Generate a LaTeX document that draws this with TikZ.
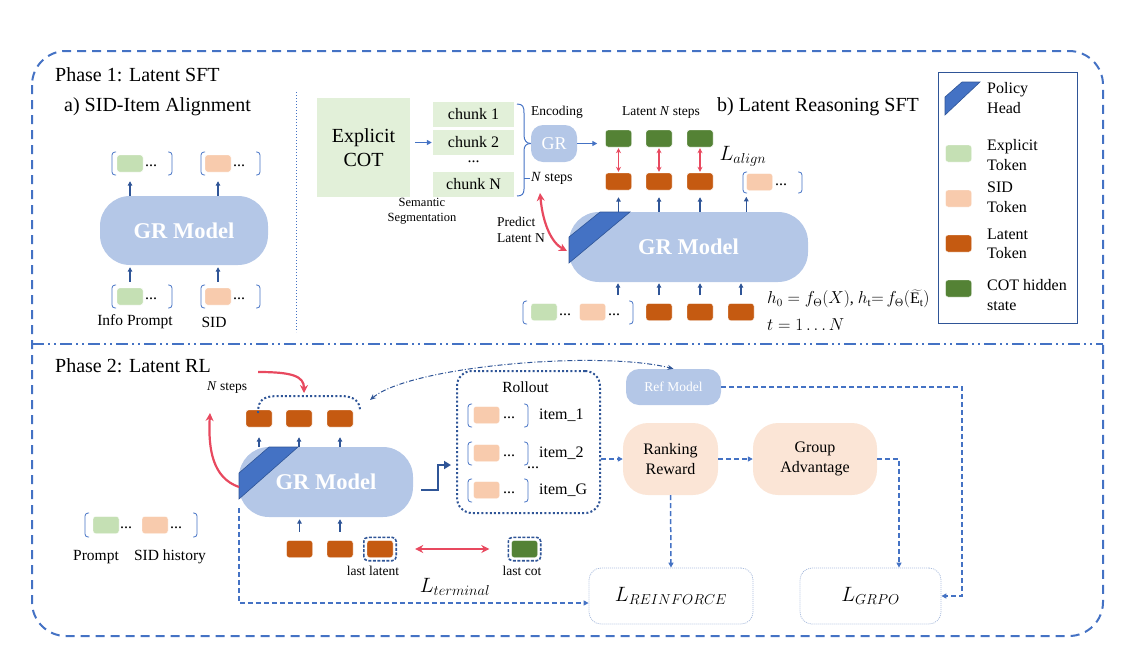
\documentclass[tikz,border=0pt]{standalone}
\usepackage{fontspec}
\setmainfont{Liberation Serif}
\usetikzlibrary{arrows.meta,calc}
\definecolor{cBlue}{HTML}{4472C4}
\definecolor{cDark}{HTML}{2F5597}
\definecolor{cGR}{HTML}{B4C7E7}
\definecolor{cGreenL}{HTML}{C5E0B4}
\definecolor{cSID}{HTML}{F8CBAD}
\definecolor{cLat}{HTML}{C55A11}
\definecolor{cCot}{HTML}{548235}
\definecolor{cCOTbox}{HTML}{E2F0D9}
\definecolor{cPeach}{HTML}{FBE5D6}
\definecolor{cRed}{HTML}{E8495F}
\definecolor{cLoss}{HTML}{A9BCDD}
\newcommand{\fs}[2]{\fontsize{#1}{#2}\selectfont}
\newcommand{\brL}[3]{\draw[brk] (#1+4,#2) -- (#1,#2) -- (#1,#3) -- (#1+4,#3);}
\newcommand{\brR}[3]{\draw[brk] (#1-4,#2) -- (#1,#2) -- (#1,#3) -- (#1-4,#3);}
\begin{document}
\begin{tikzpicture}[x=1pt,y=-1pt,
  tok/.style={rectangle, rounded corners=2.5pt, minimum width=26pt, minimum height=17pt, inner sep=0pt, draw=white, line width=0.4pt},
  gtok/.style={tok, fill=cGreenL}, stok/.style={tok, fill=cSID},
  ltok/.style={tok, fill=cLat}, ctok/.style={tok, fill=cCot},
  grbox/.style={rectangle, rounded corners=30pt, fill=cGR, text=white, font=\bfseries\fs{22.5}{27}, inner sep=0pt},
  uarr/.style={draw=cDark, line width=1.1pt, -{Triangle[length=4.5pt,width=4.5pt]}},
  rarr/.style={draw=cRed, line width=2.2pt, -{Stealth[length=8pt,width=8pt]}},
  rdarr/.style={draw=cRed, line width=2.2pt, {Stealth[length=8pt,width=8pt]}-{Stealth[length=8pt,width=8pt]}},
  rsarr/.style={draw=cRed, line width=1.3pt, {Stealth[length=5pt,width=5pt]}-{Stealth[length=5pt,width=5pt]}},
  darr/.style={draw=cBlue, line width=1.5pt, dash pattern=on 5pt off 3pt, -{Triangle[length=5pt,width=5pt]}},
  ddarr/.style={draw=cDark, line width=1pt, dash pattern=on 5pt off 2pt on 1pt off 2pt, {Stealth[length=6pt,width=5pt]}-{Stealth[length=6pt,width=5pt]}},
  barr/.style={draw=cBlue, line width=1.3pt, -{Triangle[length=5pt,width=5pt]}},
  brk/.style={draw=cBlue, line width=0.8pt, rounded corners=3pt},
  lbl/.style={inner sep=0pt},
  dotsl/.style={inner sep=0pt, anchor=west, font=\fs{16}{19}},
  head/.style={fill=cBlue, draw=cDark, line width=0.6pt},
  chunk/.style={fill=cCOTbox, minimum width=81pt, minimum height=25pt, inner sep=0pt, font=\fs{16}{19}},
  lossbox/.style={draw=cLoss, dash pattern=on 1pt off 1pt, line width=0.8pt, rounded corners=12pt, minimum height=56pt, font=\fs{20}{24}},
  peach/.style={fill=cPeach, rounded corners=25pt, minimum height=72pt, align=center, font=\fs{16}{20}},
  dashbox/.style={draw=cDark, line width=1.6pt, dash pattern=on 3pt off 1.5pt, rounded corners=4pt},
  dotline/.style={draw=cDark, line width=2pt, dash pattern=on 2pt off 2.2pt}
]
\useasboundingbox (0,0) rectangle (1134,651);

% frame
\draw[cBlue, line width=2pt, dash pattern=on 9pt off 6pt, rounded corners=34pt] (32,51) rectangle (1103,636);
\draw[cBlue, line width=2pt, dash pattern=on 12pt off 4pt on 2pt off 4pt on 2pt off 4pt] (32,344) -- (1103,344);
\draw[cBlue, line width=0.9pt, dash pattern=on 1pt off 2pt] (296,92) -- (296,332);

% titles
\node[lbl, anchor=west, font=\fs{20}{24}] (t1) at (55,75) {Phase 1: Latent SFT};
\node[lbl, anchor=west, font=\fs{20}{24}] (t1a) at (64,107) {a) SID-Item Alignment};
\node[lbl, anchor=west, font=\fs{20}{24}] (t1b) at (717,107) {b) Latent Reasoning SFT};
\node[lbl, anchor=west, font=\fs{20}{24}] (t2) at (55,366) {Phase 2: Latent RL};

% ---------- Phase 1 a
\node[grbox, minimum width=168pt, minimum height=69pt] (grA) at (184,230.5) {GR Model};
\brL{112}{152}{175} \node[gtok] (aG1) at (130,163.5) {}; \node[dotsl] at (145,166) {...}; \brR{172}{152}{175}
\brL{201}{152}{175} \node[stok] (aS1) at (218,163.5) {}; \node[dotsl] at (233,166) {...}; \brR{260}{152}{175}
\brL{112}{285}{308} \node[gtok] (aG2) at (130,296.5) {}; \node[dotsl] at (145,299) {...}; \brR{172}{285}{308}
\brL{201}{285}{308} \node[stok] (aS2) at (218,296.5) {}; \node[dotsl] at (233,299) {...}; \brR{260}{285}{308}
\draw[uarr] (grA.north -| aG1) -- ([yshift=-9pt]aG1.south);
\draw[uarr] (grA.north -| aS1) -- ([yshift=-9pt]aS1.south);
\draw[uarr, shorten >=2pt] ([yshift=6pt]aG2.north) -- (grA.south -| aG2);
\draw[uarr, shorten >=2pt] ([yshift=6pt]aS2.north) -- (grA.south -| aS2);
\node[lbl, font=\fs{15.5}{18}] (ip) at (135,322) {Info Prompt};
\node[lbl, font=\fs{15.5}{18}] (sid) at (214,322) {SID};

% ---------- Phase 1 b
\node[fill=cCOTbox, minimum width=93pt, minimum height=99pt, inner sep=0pt, align=center, font=\fs{20}{24}] (cot) at (363.5,147.5) {Explicit\\COT};
\node[chunk] (c1) at (473.5,114) {chunk 1};
\node[chunk] (c2) at (473.5,142.5) {chunk 2};
\node[lbl, font=\fs{16}{19}] (cd) at (473.5,162) {...};
\node[chunk] (cN) at (473.5,184.5) {chunk N};
\node[lbl, align=center, font=\fs{12.5}{15}] (seg) at (422,211) {Semantic\\Segmentation};
\draw[barr] ([xshift=5pt]cot.east |- c2.west) -- ([xshift=-1pt]c2.west);

\node[grbox, rounded corners=12pt, minimum width=46pt, minimum height=37pt, font=\fs{18}{21}] (grS) at (554,143.5) {GR};
\draw[cBlue, line width=1pt] (517,104) .. controls (523,104) and (524,107) .. (524,113) -- (524,135) .. controls (524,140) and (526,143.5) .. (grS.west);
\draw[cBlue, line width=1pt] (grS.west) .. controls (526,143.5) and (524,146) .. (524,151) -- (524,189) .. controls (524,194) and (522,196) .. (517,196);
\draw[cBlue, line width=1pt] (524,178) -- (530,178);
\node[lbl, font=\fs{13.5}{16}] (enc) at (557,112) {Encoding};
\node[lbl, anchor=west, font=\fs{14}{17}] (nst) at (531,178) {\textit{N} steps};

\node[ctok] (h1) at (618.5,138.5) {};
\node[ctok] (h2) at (659,138.5) {};
\node[ctok] (h3) at (700,138.5) {};
\node[ltok] (l1) at (618.5,181.5) {};
\node[ltok] (l2) at (659,181.5) {};
\node[ltok] (l3) at (700,181.5) {};
\foreach \i in {1,2,3} {\draw[rsarr, shorten <=1pt, shorten >=1pt] (h\i.south) -- (l\i.north);}
\draw[barr, shorten >=8pt] (grS.east) -- (grS.east -| h1.west);
\node[lbl, font=\fs{13.5}{16}] (lns) at (661,113) {Latent \textit{N} steps};
\node[lbl, font=\fs{19.5}{22}] (lal) at (743,156) {$L_{align}$};

\node[grbox, minimum width=239pt, minimum height=70pt] (grB) at (688.5,247) {GR Model};
\path[head] (569,263) -- (569,237) -- (600,212) -- (630,212) -- cycle;

\brL{743}{172}{193} \node[stok] (bS) at (759.5,182) {}; \node[dotsl] at (775,185) {...}; \brR{802}{172}{193}
\foreach \t in {l1,l2,l3} {\draw[uarr] (grB.north -| \t) -- ([yshift=-7pt]\t.south);}
\draw[uarr] (grB.north -| bS.west) -- ++(0,-15);

\brL{523}{301}{324} \node[gtok] (bG) at (544,312) {}; \node[dotsl] at (559,315) {...};
\node[stok] (bO) at (592.5,312) {}; \node[dotsl] at (608,315) {...}; \brR{633}{301}{324}
\node[ltok] (bl1) at (659,312) {};
\node[ltok] (bl2) at (700,312) {};
\node[ltok] (bl3) at (741,312) {};
\foreach \t in {bl1,bl2,bl3} {\draw[uarr, shorten >=1pt] ([yshift=8pt]\t.north) -- (grB.south -| \t);}
\draw[uarr, shorten >=1pt] (618,295) -- (grB.south -| 618,0);

\node[lbl, anchor=west, font=\fs{16}{19}] (f1) at (767,299) {$h_0 = f_\Theta(X)$, $h_{\mathrm{t}}{=}\, f_\Theta\big(\widetilde{\mathrm{E}_{\mathrm{t}}}\big)$};
\node[lbl, anchor=west, font=\fs{16}{19}] (f2) at (767,325) {$t = 1 \dots N$};

\node[lbl, align=left, anchor=west, font=\fs{13.5}{16}] (pred) at (497,230) {Predict\\Latent N};
\coordinate (predA) at (540,193);
\coordinate (predB) at (567,251);
\draw[rdarr] (predA) .. controls (543,225) and (552,243) .. (predB);

% legend
\draw[cDark, line width=1pt] (938,72) rectangle (1077,323);
\path[head] (945,115) -- (945,97) -- (962,82) -- (980,82) -- cycle;
\node[lbl, anchor=west, align=left, font=\fs{16}{19.5}] (kP) at (987,98) {Policy\\Head};
\node[gtok] (kG) at (958.5,153.5) {};
\node[lbl, anchor=west, align=left, font=\fs{16}{19.5}] (kGt) at (987,155) {Explicit\\Token};
\node[stok] (kS) at (958.5,198.5) {};
\node[lbl, anchor=west, align=left, font=\fs{16}{19.5}] (kSt) at (987,197.5) {SID\\Token};
\node[ltok] (kL) at (958.5,243.5) {};
\node[lbl, anchor=west, align=left, font=\fs{16}{19.5}] (kLt) at (987,244) {Latent\\Token};
\node[ctok] (kC) at (958.5,288.5) {};
\node[lbl, anchor=west, align=left, font=\fs{16}{19.5}] (kCt) at (987,295) {COT hidden\\state};

% ---------- Phase 2
\brL{85}{513}{537} \node[gtok] (pG) at (106,525) {}; \node[dotsl] at (120,528) {...};
\node[stok] (pS) at (155,525) {}; \node[dotsl] at (170,528) {...}; \brR{197}{513}{537}
\node[lbl, font=\fs{15.5}{18}] (pr) at (96,557) {Prompt};
\node[lbl, font=\fs{15.5}{18}] (sh) at (170,557) {SID history};

\node[grbox, minimum width=174pt, minimum height=70pt] (grC) at (326,482) {GR Model};
\path[head] (239,499) -- (239,473) -- (269,447) -- (298,447) -- cycle;

\node[ltok] (p1) at (259,418.5) {};
\node[ltok] (p2) at (299,418.5) {};
\node[ltok] (p3) at (340,418.5) {};
\foreach \t in {p1,p2,p3} {\draw[uarr] (grC.north -| \t) -- ([yshift=-10pt]\t.south);}

\node[ltok] (q1) at (299.5,549) {};
\node[ltok] (q2) at (340,549) {};
\node[ltok] (q3) at (380,549) {};
\foreach \t in {q1,q2} {\draw[uarr, shorten >=2pt] ([yshift=8.5pt]\t.north) -- (grC.south -| \t);}
\draw[dashbox] ([shift={(-3pt,-3pt)}]q3.south west) rectangle ([shift={(3pt,3pt)}]q3.north east);
\node[ctok] (lc) at (524.5,549) {};
\draw[dashbox] ([shift={(-3pt,-3pt)}]lc.south west) rectangle ([shift={(3pt,3pt)}]lc.north east);
\node[lbl, font=\fs{13.5}{16}] (ll) at (373,571) {last latent};
\node[lbl, font=\fs{13.5}{16}] (lcl) at (522,571) {last cot};
\draw[rdarr] ([xshift=22pt]q3.east) -- ([xshift=-22pt]lc.west);
\node[lbl, font=\fs{20.5}{24}] (lt) at (455,587) {$L_{terminal}$};

\node[lbl, anchor=west, font=\fs{13.5}{16}] (ns2) at (207,388) {\textit{N} steps};
\coordinate (nsA) at (258,372);
\coordinate (nsB) at (304,393);
\draw[rarr] (nsA) .. controls (292,372) and (304,376) .. (nsB);
\coordinate (headL) at (239,487);
\coordinate (upT) at (210,413);
\draw[rarr] (headL) .. controls (213,478) and (208,450) .. (upT);
\draw[dotline] (258,413) .. controls (258,398) and (265,396) .. (280,396) -- (340,396) .. controls (355,396) and (360,402) .. (360,411);

% rollout
\node[draw=cDark, line width=2pt, dash pattern=on 2pt off 2.2pt, rounded corners=15pt, minimum width=143pt, minimum height=142pt] (roll) at (528.5,442) {};
\node[lbl, font=\fs{15.5}{18}] (rt) at (525.5,387) {Rollout};
\brL{468}{404}{427} \node[stok] (r1) at (486.5,415) {}; \node[dotsl] at (503,418) {...}; \brR{528}{404}{427}
\node[lbl, anchor=west, font=\fs{16}{19}] (i1) at (539,415) {item\_1};
\brL{468}{442}{465} \node[stok] (r2) at (486.5,453) {}; \node[dotsl] at (503,456) {...}; \brR{528}{442}{465}
\node[lbl, anchor=west, font=\fs{16}{19}] (i2) at (539,453) {item\_2};
\node[lbl, font=\fs{16}{19}] (idots) at (533,468) {...};
\brL{468}{479}{502} \node[stok] (r3) at (486.5,490) {}; \node[dotsl] at (503,493) {...}; \brR{528}{479}{502}
\node[lbl, anchor=west, font=\fs{16}{19}] (i3) at (539,490) {item\_G};

\draw[cDark, line width=2.4pt, -{Triangle[length=7pt,width=8pt]}] ([shift={(8pt,-8pt)}]grC.east) -- ++(17,0) |- ([shift={(-5pt,-23pt)}]roll.west);

\node[peach, minimum width=95pt] (rank) at (670.5,459) {Ranking\\Reward};
\node[peach, minimum width=124pt] (ga) at (815,459) {Group\\Advantage};
\node[fill=cGR, rounded corners=13pt, minimum width=95pt, minimum height=36pt, text=white, font=\fs{13.5}{16}] (ref) at (673.5,387) {Ref Model};
\node[lossbox, minimum width=164pt] (rl) at (671,596) {$L_{REINFORCE}$};
\node[lossbox, minimum width=141pt] (gl) at (870.5,596) {$L_{GRPO}$};

\coordinate (arcR) at (370,400);
\draw[ddarr] (arcR) .. controls (410,366) and (600,350) .. (ref.north);

\draw[darr] (roll.east |- rank.west) -- (rank.west);
\draw[darr] (rank.east) -- (ga.west);
\draw[darr] (rank.south) -- (rl.north);
\draw[darr] (ga.east) -| ([xshift=28.5pt]gl.north);
\coordinate (rx) at (962,0);
\draw[darr] (ref.east) -- (ref.east -| rx) |- (gl.east);
\draw[darr] ([yshift=-26pt]grC.west) |- ([yshift=-7pt]rl.west);
\end{tikzpicture}
\end{document}
